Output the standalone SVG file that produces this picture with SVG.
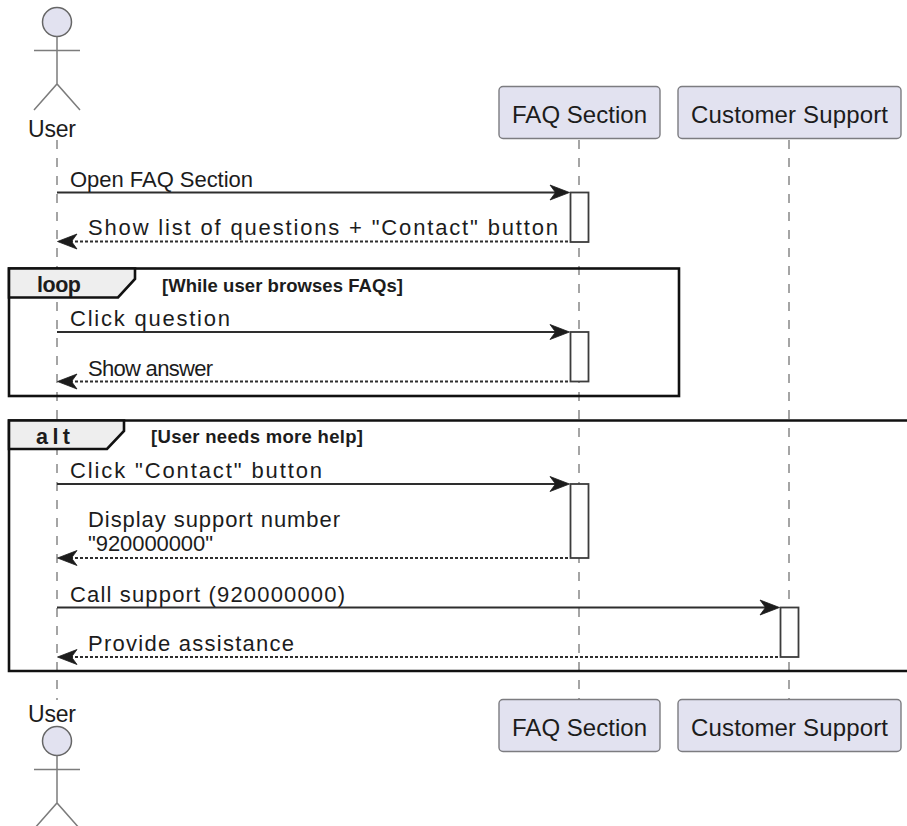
<svg xmlns="http://www.w3.org/2000/svg" width="907" height="826" viewBox="0 0 907 826">
<style>
text{font-family:"Liberation Sans",Arial,sans-serif;fill:#1c1c1c;font-size:22px}
.part{font-size:24px}
.act-l{font-size:23px}
.b{font-weight:bold}
.kw{font-size:21.5px}
.guard{font-size:18.5px}
.life{stroke:#8f8f8f;stroke-width:1.6;stroke-dasharray:9 9;fill:none}
.box{fill:#e2e2f0;stroke:#7c7c80;stroke-width:1.4}
.act{fill:#fff;stroke:#3c3c3c;stroke-width:1.8}
.msg{stroke:#2e2e2e;stroke-width:2;fill:none}
.ret{stroke:#2e2e2e;stroke-width:1.8;stroke-dasharray:3 2;fill:none}
.head{fill:#1c1c1c;stroke:#1c1c1c;stroke-width:0.8}
.frame{fill:none;stroke:#111;stroke-width:2.6}
.tab{fill:#eeeeee;stroke:#111;stroke-width:2.6}
.limb{stroke:#7c7c7c;stroke-width:1.5;fill:none}
.hd{fill:#e2e2f0;stroke:#666;stroke-width:1.5}
</style>
<defs>
<path id="r" class="head" d="M0 0L-19.500-7.500L-14 0L-19.500 7.500Z"/>
<path id="l" class="head" d="M0 0L19.500-7.500L14 0L19.500 7.500Z"/>
</defs>
<g id="lifelines">
<path class="life" d="M57 140V700"/>
<path class="life" d="M579 140V699"/>
<path class="life" d="M789 140V699"/>
</g>
<g id="frame-loop">
<rect class="frame" x="9" y="268.5" width="670" height="127.5"/>
<path class="tab" d="M9 268.5H135V279L118 297.500H9Z"/>
<text class="b kw" x="37" y="292" textLength="44">loop</text>
<text class="b guard" x="162" y="292" textLength="241">[While user browses FAQs]</text>
</g>
<g id="frame-alt">
<path class="frame" d="M910 420.5H9V671H910"/>
<path class="tab" d="M9 420.500H124V431L107 449H9Z"/>
<text class="b kw" x="36" y="444" textLength="34">alt</text>
<text class="b guard" x="151" y="443" textLength="212">[User needs more help]</text>
</g>
<g id="actor-user-top">
<circle class="hd" cx="57" cy="22" r="14.5"/>
<path class="limb" d="M57 36.500V84M34 50.500H80M34 110L57 84L80 110"/>
<text class="act-l" x="28" y="136.500" textLength="48">User</text>
</g>
<g id="participant-faq-top">
<rect class="box" x="499" y="86.5" width="161" height="52" rx="4"/>
<text class="part" x="512" y="122.500" textLength="135">FAQ Section</text>
</g>
<g id="participant-support-top">
<rect class="box" x="678" y="86.5" width="223" height="52" rx="4"/>
<text class="part" x="691" y="122.500" textLength="197">Customer Support</text>
</g>
<g id="activations">
<rect class="act" x="570.5" y="192.5" width="18" height="49.5"/>
<rect class="act" x="570.5" y="332" width="18" height="49.5"/>
<rect class="act" x="570.5" y="484" width="18" height="74"/>
<rect class="act" x="780.5" y="607.5" width="18" height="49.5"/>
</g>
<g id="connectors">
<path class="msg" d="M57 192.5H556"/><use href="#r" x="569.5" y="192.5"/>
<path class="ret" d="M70 241.5H570"/><use href="#l" x="57.500" y="241.500"/>
<path class="msg" d="M57 332H556"/><use href="#r" x="569.5" y="332"/>
<path class="ret" d="M70 381.500H570"/><use href="#l" x="57.500" y="381.500"/>
<path class="msg" d="M57 484H556"/><use href="#r" x="569.5" y="484"/>
<path class="ret" d="M70 558H570"/><use href="#l" x="57.500" y="558"/>
<path class="msg" d="M57 607.500H766"/><use href="#r" x="779.5" y="607.500"/>
<path class="ret" d="M70 657H780"/><use href="#l" x="57.500" y="657"/>
</g>
<g id="labels">
<text x="70" y="186.500" textLength="183">Open FAQ Section</text>
<text x="88" y="235" textLength="470">Show list of questions + "Contact" button</text>
<text x="70" y="326" textLength="160">Click question</text>
<text x="88" y="375.500" textLength="125">Show answer</text>
<text x="70" y="478" textLength="252">Click "Contact" button</text>
<text x="88" y="527" textLength="252">Display support number</text>
<text x="88" y="551" textLength="125">"920000000"</text>
<text x="70" y="602" textLength="275">Call support (920000000)</text>
<text x="88" y="651" textLength="206">Provide assistance</text>
</g>
<g id="actor-user-bottom">
<text class="act-l" x="28" y="722" textLength="48">User</text>
<circle class="hd" cx="57" cy="741" r="14.5"/>
<path class="limb" d="M57 755.500V803M34 769.500H80M34 829L57 803L80 829"/>
</g>
<g id="participant-faq-bottom">
<rect class="box" x="499" y="699.500" width="161" height="52" rx="4"/>
<text class="part" x="512" y="735.500" textLength="135">FAQ Section</text>
</g>
<g id="participant-support-bottom">
<rect class="box" x="678" y="699.500" width="223" height="52" rx="4"/>
<text class="part" x="691" y="735.500" textLength="197">Customer Support</text>
</g>
</svg>
